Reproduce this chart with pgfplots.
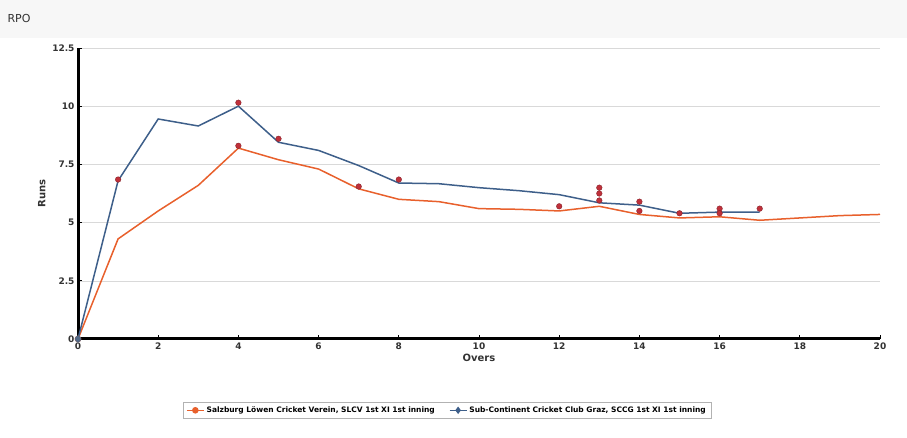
\documentclass[border=0pt]{standalone}
\usepackage{pgfplots}
\pgfplotsset{compat=1.18}
\usepackage{fontspec}
\setmainfont{DejaVu Sans}
\definecolor{org}{HTML}{E8602C}
\definecolor{blu}{HTML}{3E5F8A}
\definecolor{wk}{HTML}{C0303A}
\begin{document}
\begin{tikzpicture}
\path[use as bounding box] (0pt,0pt) rectangle (907pt,438pt);
\fill[gray!6] (0pt,400pt) rectangle (907pt,438pt);
\node[anchor=west,font=\fontsize{11}{13}\selectfont,text=black!80] at (4pt,419pt) {RPO};
\begin{axis}[at={(78pt,99pt)},anchor=origin,scale only axis,width=802pt,height=291pt,
  xmin=0,xmax=20,ymin=0,ymax=12.5,
  xtick={0,2,...,20},ytick={0,2.5,5,7.5,10,12.5},
  yticklabels={0,2.5,5,7.5,10,12.5},
  axis x line*=bottom, axis y line*=left,
  x axis line style={line width=3pt,-},y axis line style={line width=3pt,-},
  ymajorgrids, grid style={gray!30},
  tick style={black,thick},major tick length=4pt,
  /pgf/number format/assume math mode=true,
  ticklabel style={font=\fontsize{9}{11}\selectfont\bfseries,text=black!80},
  xlabel={\bfseries Overs},ylabel={\bfseries Runs},
  label style={font=\fontsize{10}{12}\selectfont,text=black!80},
  xlabel style={yshift=2pt},
  clip=false,
  legend style={at={(0.46,-0.245)},anchor=center,legend columns=2,draw=gray!60,
    font=\fontsize{7.5}{9}\selectfont\bfseries,/tikz/every even column/.append style={column sep=12pt}},
]
\addplot[org,line width=1.5pt,mark=*,mark size=2.5pt,mark repeat=100] coordinates {(0,0)(1,4.3)(2,5.5)(3,6.6)(4,8.2)(5,7.7)(6,7.3)(7,6.45)(8,6.0)(9,5.9)(10,5.6)(11,5.57)(12,5.5)(13,5.7)(14,5.35)(15,5.2)(16,5.25)(17,5.1)(18,5.2)(19,5.3)(20,5.35)};
\addlegendentry{Salzburg Löwen Cricket Verein, SLCV 1st XI 1st inning}
\addplot[blu,line width=1.5pt,mark=diamond*,mark size=2.5pt,mark repeat=100] coordinates {(0,0)(1,6.8)(2,9.45)(3,9.15)(4,10.0)(5,8.45)(6,8.1)(7,7.45)(8,6.7)(9,6.67)(10,6.5)(11,6.37)(12,6.2)(13,5.85)(14,5.75)(15,5.4)(16,5.45)(17,5.45)};
\addlegendentry{Sub-Continent Cricket Club Graz, SCCG 1st XI 1st inning}
\addplot[only marks,mark=*,mark size=2.8pt,wk,mark options={draw=wk!70!black}] coordinates {(1,6.85)(4,10.15)(4,8.3)(5,8.6)(7,6.55)(8,6.85)(12,5.7)(13,6.5)(13,6.25)(13,5.95)(14,5.9)(14,5.5)(15,5.4)(16,5.6)(16,5.4)(17,5.6)};
\addplot[only marks,mark=*,mark size=3pt,blu!70!gray,forget plot] coordinates {(0,0)};
\end{axis}
\end{tikzpicture}
\end{document}
